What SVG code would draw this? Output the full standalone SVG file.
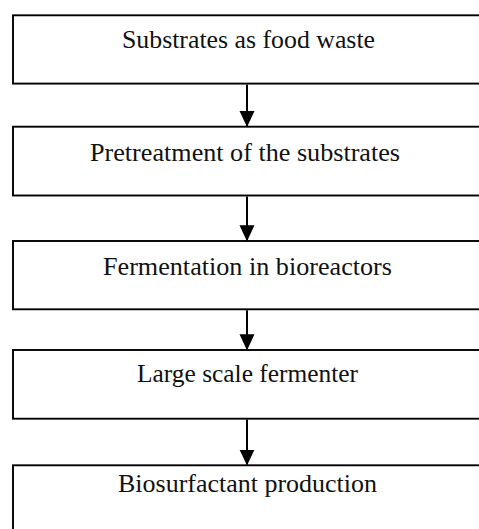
<svg xmlns="http://www.w3.org/2000/svg" width="479" height="529" viewBox="0 0 479 529">
<style>
.box{fill:#fff;stroke:#000;stroke-width:1.9}
.lbl{font-family:"Liberation Serif","Times New Roman",serif;font-size:25px;fill:#111;text-anchor:middle}
.conn{stroke:#000;stroke-width:2;fill:none}
</style>
<defs>
<marker id="ah" markerUnits="userSpaceOnUse" markerWidth="16" markerHeight="17" refX="15" refY="7.5" orient="auto" viewBox="0 0 16 15">
<path d="M0,0 L16,7.5 L0,15 Z" fill="#000"/>
</marker>
</defs>
<rect width="479" height="529" fill="#fff"/>
<g id="n1"><rect class="box" x="13" y="15.3" width="480" height="68.3"/><text class="lbl" x="248.5" y="48.3" textLength="253" lengthAdjust="spacingAndGlyphs">Substrates as food waste</text></g>
<g id="n2"><rect class="box" x="13" y="126.7" width="480" height="68.8"/><text class="lbl" x="245" y="160.7" textLength="310" lengthAdjust="spacingAndGlyphs">Pretreatment of the substrates</text></g>
<g id="n3"><rect class="box" x="13" y="241" width="480" height="68.3"/><text class="lbl" x="247.5" y="275" textLength="289" lengthAdjust="spacingAndGlyphs">Fermentation in bioreactors</text></g>
<g id="n4"><rect class="box" x="13" y="350" width="480" height="68.7"/><text class="lbl" x="247.5" y="382" textLength="221" lengthAdjust="spacingAndGlyphs">Large scale fermenter</text></g>
<g id="n5"><rect class="box" x="13" y="465.3" width="480" height="80"/><text class="lbl" x="247.5" y="491.7" textLength="259" lengthAdjust="spacingAndGlyphs">Biosurfactant production</text></g>
<g id="connectors">
<line class="conn" x1="247" y1="84.5" x2="247" y2="126" marker-end="url(#ah)"/>
<line class="conn" x1="247" y1="196.5" x2="247" y2="240.3" marker-end="url(#ah)"/>
<line class="conn" x1="247" y1="310.2" x2="247" y2="349.3" marker-end="url(#ah)"/>
<line class="conn" x1="247" y1="419.6" x2="247" y2="464.6" marker-end="url(#ah)"/>
</g>
</svg>
